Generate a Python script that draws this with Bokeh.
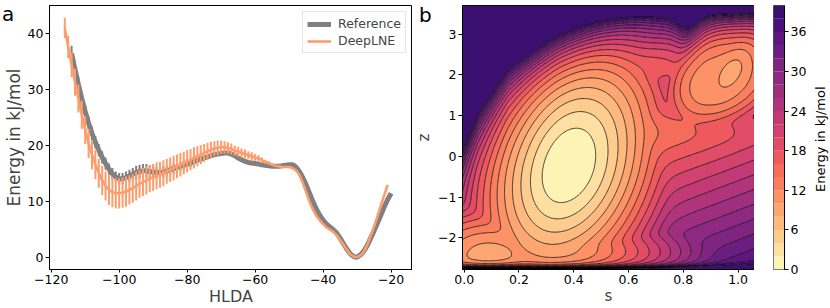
import numpy as np
from bokeh.plotting import figure
from bokeh.layouts import row
from bokeh.models import Range1d, FixedTicker, Legend, LegendItem, Div
from bokeh.palettes import Magma256
from bokeh.embed import file_html
from bokeh.resources import INLINE

FONT = "DejaVu Sans"
GRAY = "#808080"
ORANGE = "#fd9d6c"

# ---------------- panel a data ----------------
ref_x = list(range(-114, -19))
ref_y = [36.5, 33.6, 30.9, 28.4, 26.1, 24.0, 22.2, 20.6, 19.2, 17.9, 16.8, 15.8, 15.0, 14.4, 14.1, 14.1,
         14.3, 14.6, 14.9, 15.2, 15.4, 15.5, 15.5, 15.4, 15.3, 15.2, 15.2, 15.3, 15.5, 15.7, 15.9, 16.1,
         16.3, 16.5, 16.7, 16.9, 17.1, 17.4, 17.6, 17.8, 18.0, 18.2, 18.4, 18.5, 18.6, 18.7, 18.7, 18.5,
         18.2, 17.8, 17.5, 17.2, 17.0, 16.9, 16.8, 16.7, 16.6, 16.5, 16.4, 16.3, 16.3, 16.3, 16.4, 16.5,
         16.6, 16.6, 16.2, 15.4, 14.3, 13.0, 11.5, 10.0, 8.7, 7.6, 6.7, 6.0, 5.5, 5.0, 4.4, 3.5,
         2.5, 1.5, 0.7, 0.2, 0.1, 0.5, 1.2, 2.2, 3.5, 4.8, 6.2, 7.6, 9.1, 10.4, 11.5]
ref_err = ([1.3, 1.3, 1.3, 1.2, 1.2, 1.2, 1.2, 1.1, 1.1, 1.1, 1.1, 1.0]
           + [1.0, 1.0, 1.0, 1.0, 1.1, 1.1, 1.1, 1.2, 1.2, 1.2, 1.2, 1.1, 1.1, 1.0, 1.0, 1.0, 0.9, 0.9,
              0.9, 0.8, 0.8, 0.8, 0.8]
           + [0.7, 0.6, 0.5, 0.4, 0.3]
           + [0.0] * 55)

dln_x = list(range(-116, -20))
dln_y = [41.0, 37.6, 34.4, 31.3, 28.4, 25.5, 22.8, 20.4, 18.4, 16.6, 15.1, 13.8, 12.8, 12.1, 11.7, 11.5,
         11.5, 11.6, 11.8, 12.1, 12.4, 12.8, 13.2, 13.5, 13.8, 14.1, 14.3, 14.6, 14.8, 15.1, 15.4, 15.7,
         16.0, 16.3, 16.6, 16.9, 17.2, 17.5, 17.8, 18.1, 18.4, 18.7, 19.0, 19.3, 19.5, 19.6, 19.7, 19.7,
         19.6, 19.4, 19.1, 18.9, 18.7, 18.5, 18.3, 18.1, 17.9, 17.7, 17.4, 17.1, 16.9, 16.6, 16.4, 16.3,
         16.2, 16.2, 16.2, 16.0, 15.6, 14.8, 13.4, 11.7, 10.0, 8.6, 7.5, 6.7, 6.0, 5.4, 5.0, 4.6,
         4.0, 3.2, 2.3, 1.4, 0.6, 0.2, 0.1, 0.4, 1.1, 2.3, 3.9, 5.6, 7.4, 9.3, 11.2, 13.0]
dln_err = ([1.8, 2.0, 2.2, 2.4, 2.5, 2.5, 2.5, 2.6, 2.6, 2.6, 2.6, 2.6, 2.6]
           + [2.7, 2.7, 2.7, 2.7, 2.7, 2.7, 2.6, 2.6, 2.6, 2.5, 2.5, 2.5, 2.4, 2.4, 2.4, 2.3]
           + [2.3, 2.2, 2.2, 2.2, 2.1, 2.1, 2.0, 2.0, 1.9, 1.9, 1.8, 1.7, 1.6, 1.5]
           + [1.4, 1.3, 1.3, 1.2, 1.1, 1.0, 1.0, 0.9, 0.9, 0.8, 0.8, 0.7]
           + [0.7, 0.6, 0.6, 0.5, 0.4, 0.3, 0.2, 0.1]
           + [0.0] * 33)

a_xticks = [-120, -100, -80, -60, -40, -20]
a_yticks = [0, 10, 20, 30, 40]

levels = list(range(0, 42, 2))
b_xticks = [0.0, 0.2, 0.4, 0.6, 0.8, 1.0]
b_yticks = [-2, -1, 0, 1, 2, 3]
cb_ticks = [0, 6, 12, 18, 24, 30, 36]

# basins: main, lower-left, bottom valley, upper-right core, upper-right shelf, right plateau, upper saddle
well_s = [0.38, 0.088, 0.35, 0.98, 0.92, 0.82, 0.68]
well_z = [-0.24, -2.45, -2.35, 2.15, 2.00, 0.60, 2.20]
well_f0 = [0.0, 9.0, 10.5, 8.8, 10.6, 18.5, 16.2]
well_su_left = [0.20, 0.25, 0.30, 0.11, 0.13, 0.25, 0.25]
well_su_right = [0.21, 0.25, 0.30, 0.11, 0.18, 0.35, 0.30]
well_sz_down = [1.95, 0.50, 0.60, 1.10, 1.00, 1.20, 0.60]
well_sz_up = [2.10, 1.00, 0.60, 1.10, 1.05, 1.50, 1.00]
well_shear = [0.03, 0.0, 0.0, 0.06, 0.05, 0.05, 0.0]
well_power = [2, 2, 2, 2, 4, 2, 2]
# edge of the unexplored (upper-left) region
edge_s = [-0.05, 0.05, 0.16, 0.34, 0.52, 0.75]
edge_z = [-0.4, 1.08, 2.13, 2.94, 3.54, 4.3]

S = np.linspace(-0.006, 1.06, 260)
Zg = np.linspace(-2.78, 3.705, 300)
SS, ZZ = np.meshgrid(S, Zg)

terms = []
for i in range(len(well_s)):
    dz = ZZ - well_z[i]
    u = SS - well_s[i] - well_shear[i] * dz
    su = np.where(u < 0, well_su_left[i], well_su_right[i])
    sz = np.where(dz < 0, well_sz_down[i], well_sz_up[i])
    r = np.sqrt((u / su) ** 2 + (dz / sz) ** 2)
    pw = well_power[i]
    terms.append(well_f0[i] + 20.0 * ((1 + r ** pw) ** (1.0 / pw) - 1))
# lower-right slope
terms.append(20 + 14 * (SS - 0.85) - 5.5 * (ZZ + 0.25)
             + 200 * np.maximum(0, 0.7 - SS) ** 2 + 10 * np.maximum(0, ZZ - 0.3) ** 2)
T = 1.2
stack = np.array(terms)
m = stack.min(axis=0)
F = m - T * np.log(np.exp(-(stack - m) / T).sum(axis=0))
F = F + 40 * np.exp((ZZ - 3.72) / 0.12) + 6 * np.exp((ZZ - 3.4) / 0.5)
F = F + 40 * np.exp(-(ZZ + 2.79) / 0.05)
F = F + 16 * np.exp((ZZ - np.interp(SS, edge_s, edge_z)) / 0.5)
F = F + 14 * np.exp(-0.5 * ((SS - 0.815) / 0.03) ** 2) * np.exp((ZZ - 3.35) / 0.3)
F = F - F.min() + 0.01
F = np.clip(F, 0.01, 39.99)

colors = []
for k in range(len(levels) - 1):
    mid = 0.5 * (levels[k] + levels[k + 1])
    t = 1 - mid / 48.75
    colors.append(Magma256[int(round(t * 255))])

H = 308
TOP = 5
BOT = 39

def style(p):
    p.outline_line_color = "black"
    p.outline_line_width = 1
    p.xgrid.visible = False
    p.ygrid.visible = False
    for ax in p.axis:
        ax.major_tick_out = 4
        ax.major_tick_in = 0
        ax.minor_tick_out = 0
        ax.minor_tick_in = 0
        ax.major_label_standoff = 2
        ax.axis_label_standoff = 2
        ax.major_label_text_font = FONT
        ax.major_label_text_font_size = "12.5px"
        ax.axis_label_text_font = FONT
        ax.axis_label_text_font_style = "normal"
        ax.major_label_text_color = "black"
        ax.axis_line_color = "black"
    for ax in p.xaxis:
        ax.major_tick_out = 3
        ax.axis_label_standoff = 0

def minus(v, fmt):
    return (fmt % v).replace("-", "\u2212")

# ---------------- panel a ----------------
p1 = figure(width=412, height=H, x_range=Range1d(-120.5, -13.7), y_range=Range1d(-2.1, 45.0),
            output_backend="svg", toolbar_location=None,
            min_border_left=45, min_border_right=0, min_border_top=TOP, min_border_bottom=BOT)
style(p1)
p1.xaxis.ticker = FixedTicker(ticks=a_xticks)
p1.xaxis.major_label_overrides = {t: minus(t, "%d") for t in a_xticks}
p1.yaxis.ticker = FixedTicker(ticks=a_yticks)
p1.xaxis.axis_label = "HLDA"
p1.yaxis.axis_label = "Energy in kJ/mol"
p1.xaxis.axis_label_text_font_size = "16px"
p1.yaxis.axis_label_text_font_size = "17px"
p1.yaxis.axis_label_standoff = 1

r_ref = p1.line(ref_x, ref_y, line_color=GRAY, line_width=5)
rx = [x for x, e in zip(ref_x, ref_err) if e > 0]
ry0 = [y - e for y, e in zip(ref_y, ref_err) if e > 0]
ry1 = [y + e for y, e in zip(ref_y, ref_err) if e > 0]
p1.segment(x0=rx, y0=ry0, x1=rx, y1=ry1, line_color=GRAY, line_width=2)

r_dln = p1.line(dln_x, dln_y, line_color=ORANGE, line_width=2.6)
dx = [x for x, e in zip(dln_x, dln_err) if e > 0]
dy0 = [y - e for y, e in zip(dln_y, dln_err) if e > 0]
dy1 = [y + e for y, e in zip(dln_y, dln_err) if e > 0]
p1.segment(x0=dx, y0=dy0, x1=dx, y1=dy1, line_color=ORANGE, line_width=2)

legend = Legend(items=[LegendItem(label="Reference", renderers=[r_ref]),
                       LegendItem(label="DeepLNE", renderers=[r_dln])],
                location="top_right")
legend.label_text_font = FONT
legend.label_text_font_size = "12.5px"
legend.glyph_width = 24
legend.glyph_height = 14
legend.label_standoff = 7
legend.spacing = 2
legend.padding = 4
legend.margin = 6
legend.border_line_color = "#cccccc"
legend.border_line_width = 1
legend.background_fill_alpha = 0.9
p1.add_layout(legend)

# ---------------- panel b ----------------
p2 = figure(width=342, height=H, x_range=Range1d(-0.006, 1.06), y_range=Range1d(-2.78, 3.705),
            output_backend="svg", toolbar_location=None,
            min_border_left=47, min_border_right=0, min_border_top=TOP, min_border_bottom=BOT)
style(p2)
p2.contour(x=SS, y=ZZ, z=F, levels=levels, fill_color=colors, line_color="black",
           line_width=0.8, line_alpha=0.9)
p2.xaxis.ticker = FixedTicker(ticks=b_xticks)
p2.xaxis.major_label_overrides = {t: "%.1f" % t for t in b_xticks}
p2.yaxis.ticker = FixedTicker(ticks=b_yticks)
p2.yaxis.major_label_overrides = {t: minus(t, "%d") for t in b_yticks}
p2.xaxis.axis_label = "s"
p2.yaxis.axis_label = "z"
p2.xaxis.axis_label_text_font_size = "15px"
p2.yaxis.axis_label_text_font_size = "15px"

# ---------------- colour bar ----------------
p3 = figure(width=76, height=H, x_range=Range1d(0, 1), y_range=Range1d(0, 40),
            output_backend="svg", toolbar_location=None, y_axis_location="right",
            min_border_left=19, min_border_right=46, min_border_top=TOP, min_border_bottom=BOT)
style(p3)
p3.xaxis.visible = False
p3.outline_line_color = "#555555"
p3.quad(left=0, right=1, bottom=levels[:-1], top=levels[1:], fill_color=colors, line_color=None)
p3.yaxis.ticker = FixedTicker(ticks=cb_ticks)

def text_div(txt, left, top, size, extra=None):
    st = {"position": "absolute", "left": "%dpx" % left, "top": "%dpx" % top,
          "font-family": FONT, "font-size": size, "color": "black", "margin": "0",
          "padding": "0", "white-space": "nowrap"}
    if extra:
        st.update(extra)
    return Div(text=txt, styles=st)

da = text_div("a", 2, 0, "20px")
db = text_div("b", 419, 1, "20px")
dcb = text_div("Energy in kJ/mol", 813, 192, "13px",
               {"transform": "rotate(-90deg)", "transform-origin": "0 0", "line-height": "15px"})

layout = row(p1, p2, p3, da, db, dcb)
open("out.html", "w").write(file_html(layout, INLINE))
